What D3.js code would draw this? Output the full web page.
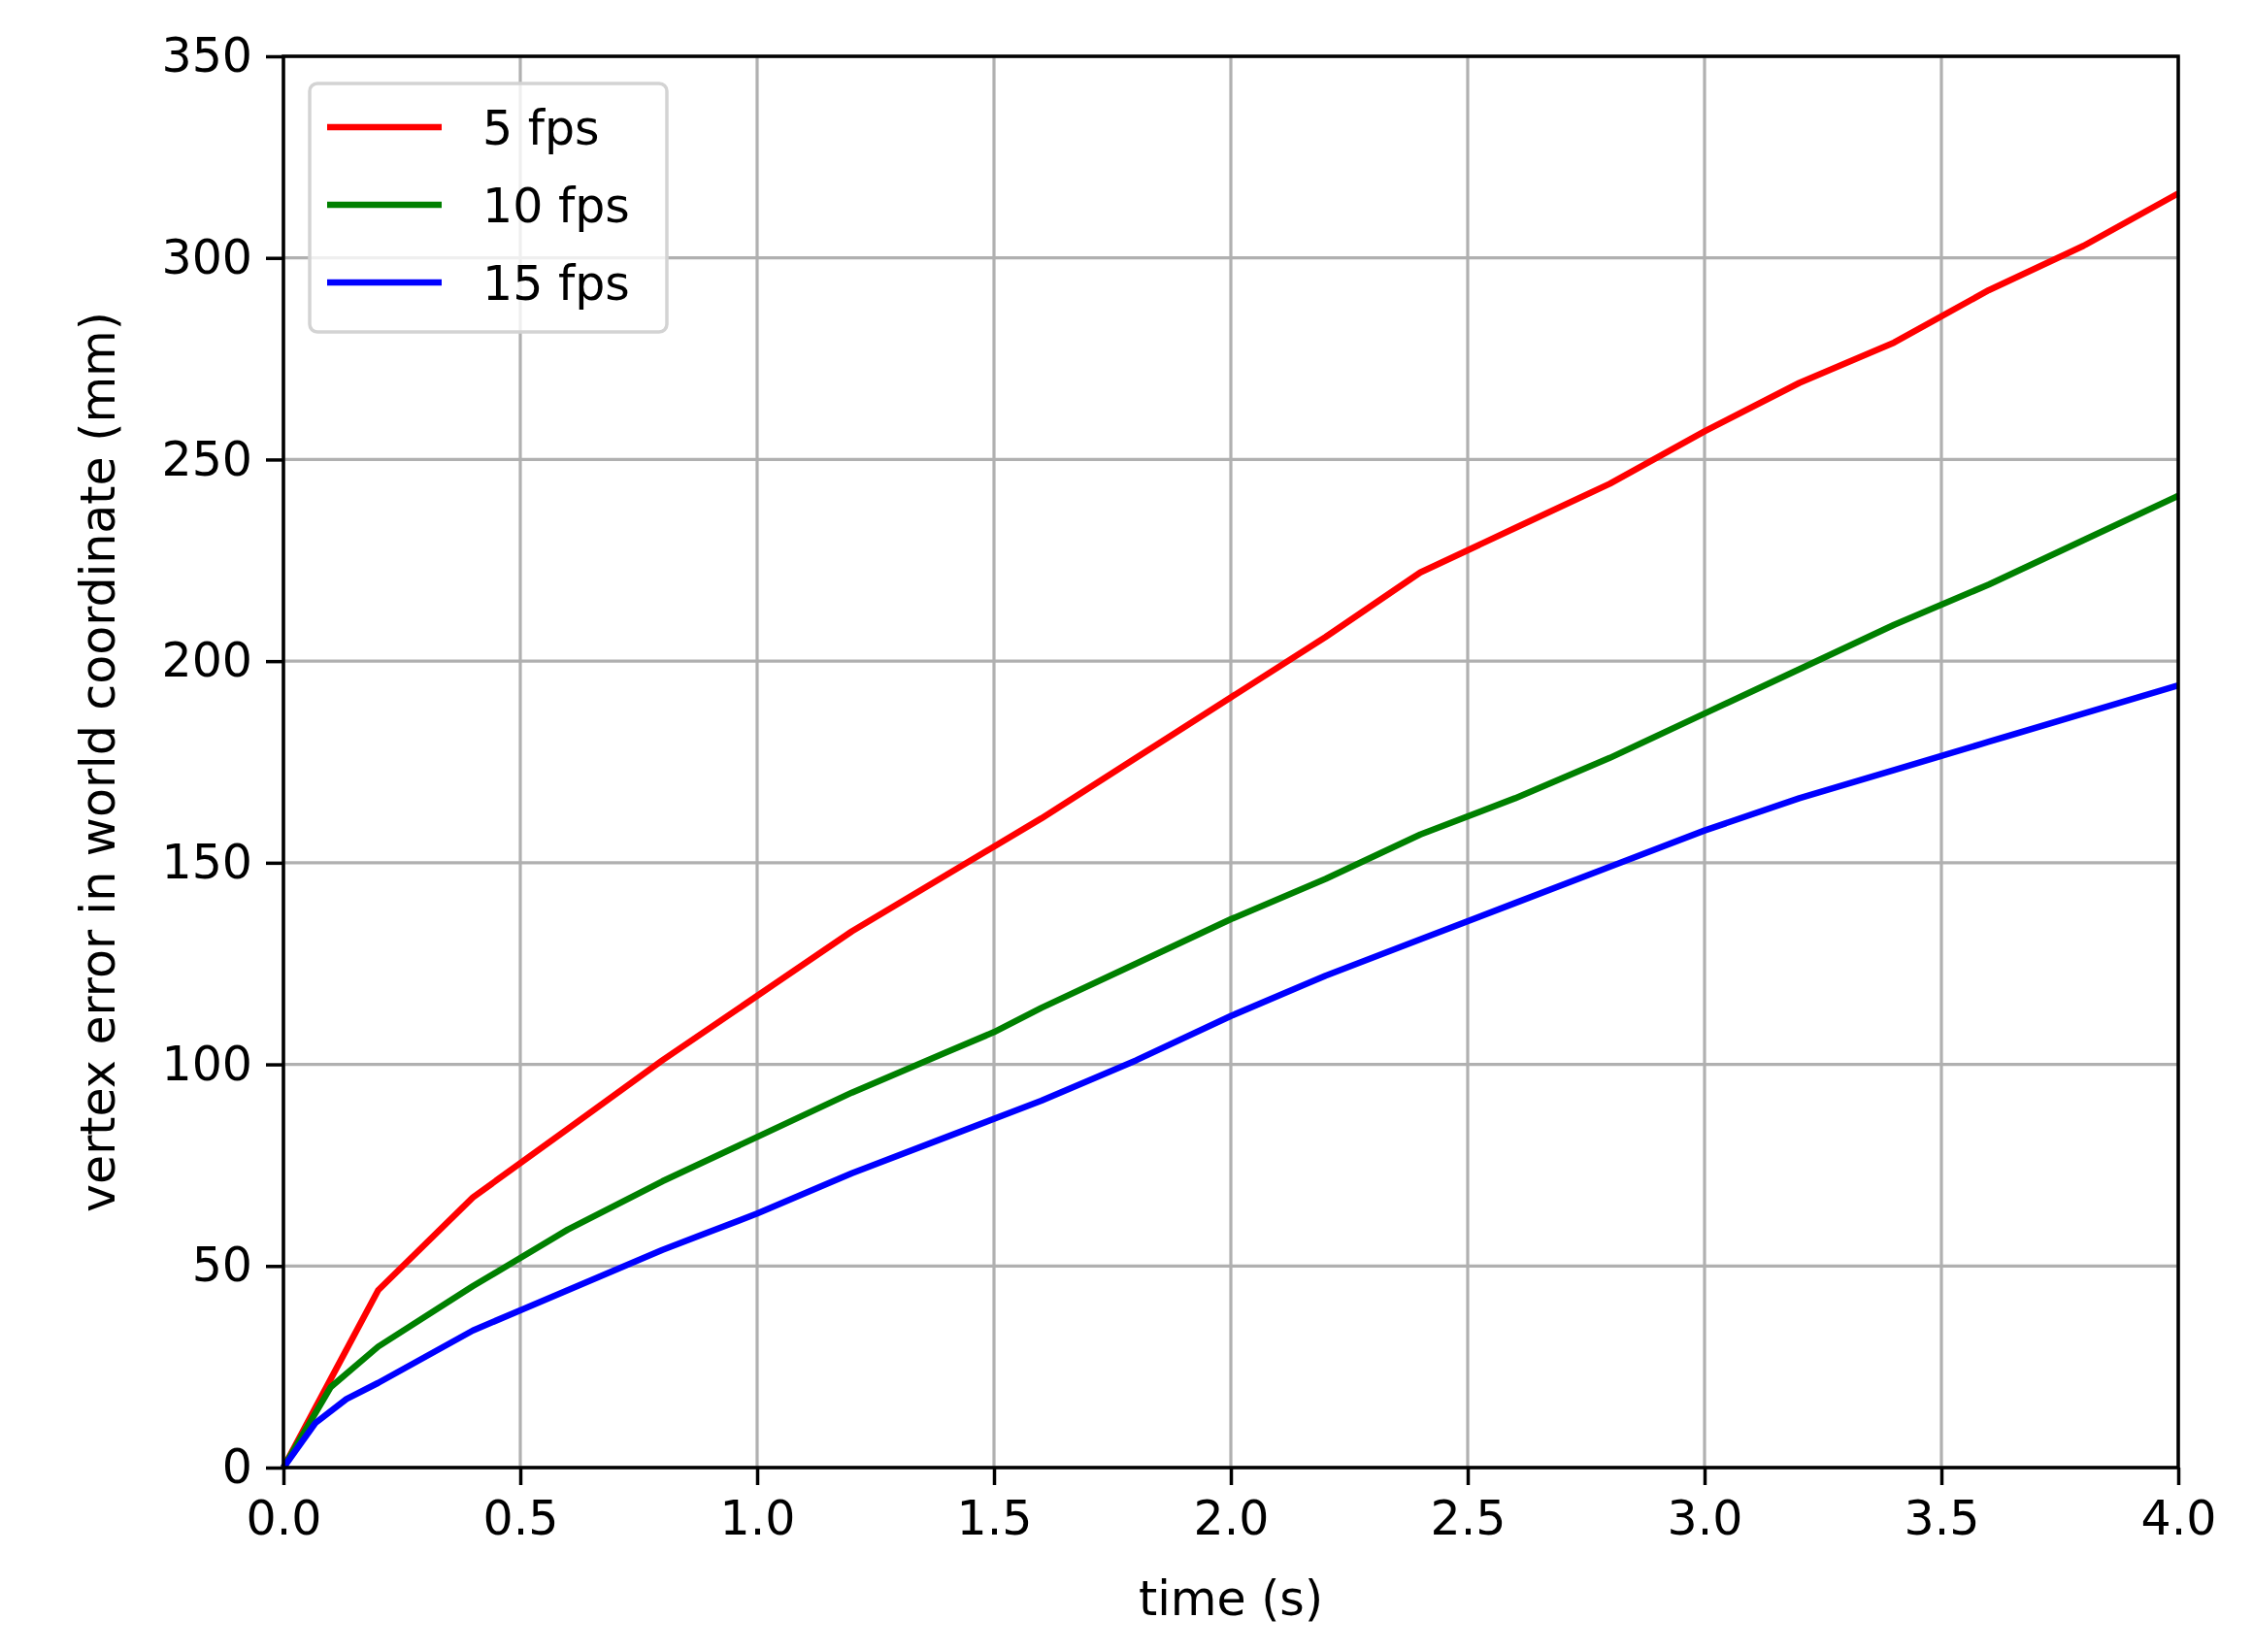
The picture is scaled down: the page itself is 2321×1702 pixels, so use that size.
<!DOCTYPE html>
<html><head><meta charset="utf-8">
<script src="https://cdn.jsdelivr.net/npm/d3@7"></script>
<style>body{margin:0;background:#fff}text{font-family:"DejaVu Sans",sans-serif}</style>
</head><body><svg id="c" width="2321" height="1702"></svg>
<script>
const seriesNames = ["5 fps","10 fps","15 fps"];
const seriesColors = ["#ff0000","#008000","#0000ff"];
const xRed = [0,0.1,0.2,0.4,0.6,0.8,1.0,1.2,1.4,1.6,1.8,2.0,2.2,2.4,2.6,2.8,3.0,3.2,3.4,3.6,3.8,4.0];
const yRed = [0,22,44,67,84,101,117,133,147,161,176,191,206,222,233,244,257,269,279,292,303,316];
const xGreen = [0,0.1,0.2,0.4,0.6,0.8,1.0,1.2,1.4,1.5,1.6,1.8,2.0,2.2,2.4,2.6,2.8,3.0,3.2,3.4,3.6,3.8,4.0];
const yGreen = [0,20,30,45,59,71,82,93,103,108,114,125,136,146,157,166,176,187,198,209,219,230,241];
const xBlue = [0,0.067,0.133,0.2,0.4,0.5,0.6,0.8,1.0,1.2,1.4,1.6,1.8,2.0,2.2,2.4,2.6,2.8,3.0,3.2,3.4,3.6,3.8,4.0];
const yBlue = [0,11,17,21,34,39,44,54,63,73,82,91,101,112,122,131,140,149,158,166,173,180,187,194];
const xTicks = [0,0.5,1,1.5,2,2.5,3,3.5,4];
const yTicks = [0,50,100,150,200,250,300,350];

const L=292,R=2244,T=58,B=1512;
const svg=d3.select("#c");
const x=d3.scaleLinear().domain([0,4]).range([L,R]);
const y=d3.scaleLinear().domain([0,350]).range([B,T]);
const fs=49;
svg.append("g").selectAll("line").data(xTicks).join("line")
 .attr("x1",d=>x(d)).attr("x2",d=>x(d)).attr("y1",T).attr("y2",B).attr("stroke","#b0b0b0").attr("stroke-width",3.2);
svg.append("g").selectAll("line").data(yTicks).join("line")
 .attr("y1",d=>y(d)).attr("y2",d=>y(d)).attr("x1",L).attr("x2",R).attr("stroke","#b0b0b0").attr("stroke-width",3.2);
const data=[[xRed,yRed],[xGreen,yGreen],[xBlue,yBlue]];
const line=d3.line().x(d=>x(d[0])).y(d=>y(d[1]));
data.forEach((s,i)=>{
 svg.append("path").datum(s[0].map((v,j)=>[v,s[1][j]])).attr("d",line)
  .attr("fill","none").attr("stroke",seriesColors[i]).attr("stroke-width",6.5).attr("stroke-linejoin","round");
});
const xa=svg.append("g").attr("transform",`translate(0,${B})`).call(d3.axisBottom(x).tickValues(xTicks).tickFormat(d3.format(".1f")).tickSize(18).tickPadding(16));
const ya=svg.append("g").attr("transform",`translate(${L},0)`).call(d3.axisLeft(y).tickValues(yTicks).tickSize(18).tickPadding(14));
[xa,ya].forEach(a=>{a.select(".domain").remove();a.selectAll("line").attr("stroke","#000").attr("stroke-width",3.5);
 a.selectAll("text").attr("font-size",fs).attr("fill","#000").style("font-family","DejaVu Sans");});
svg.append("rect").attr("x",L).attr("y",T).attr("width",R-L).attr("height",B-T).attr("fill","none").attr("stroke","#000").attr("stroke-width",3.5);
svg.append("text").attr("x",(L+R)/2).attr("y",1664).attr("text-anchor","middle").attr("font-size",fs).text("time (s)");
svg.append("text").attr("transform",`translate(118,${(T+B)/2}) rotate(-90)`).attr("text-anchor","middle").attr("font-size",fs).text("vertex error in world coordinate (mm)");
const lg=svg.append("g");
lg.append("rect").attr("x",319).attr("y",86).attr("width",368).attr("height",256).attr("rx",8)
 .attr("fill","#fff").attr("fill-opacity",0.8).attr("stroke","#d3d3d3").attr("stroke-width",3.5);
seriesNames.forEach((n,i)=>{
 const yy=131+i*80;
 lg.append("line").attr("x1",337).attr("x2",455).attr("y1",yy).attr("y2",yy).attr("stroke",seriesColors[i]).attr("stroke-width",6.5);
 lg.append("text").attr("x",497).attr("y",yy+18).attr("font-size",fs).text(n);
});
</script></body></html>
